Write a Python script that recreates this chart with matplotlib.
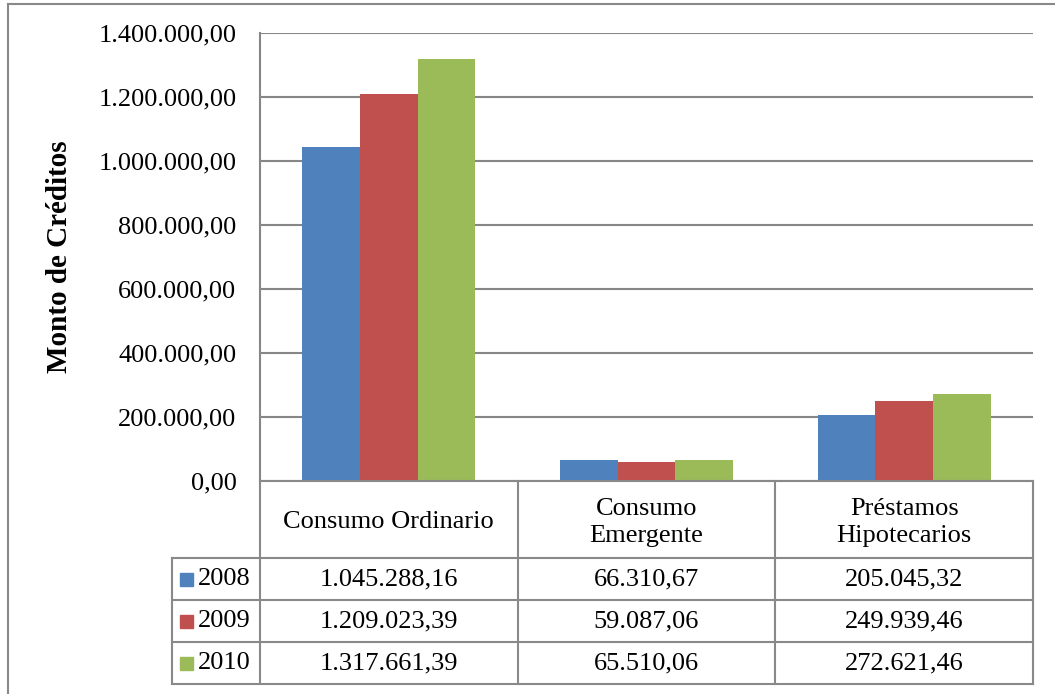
import matplotlib.pyplot as plt
import numpy as np
from matplotlib.patches import Rectangle

plt.rcParams['font.family'] = ['Liberation Serif', 'DejaVu Serif']

# montos de créditos por tipo y año
categorias = ['Consumo Ordinario', 'Consumo\nEmergente', 'Préstamos\nHipotecarios']
anios = ['2008', '2009', '2010']
montos_2008 = [1045288.16, 66310.67, 205045.32]
montos_2009 = [1209023.39, 59087.06, 249939.46]
montos_2010 = [1317661.39, 65510.06, 272621.46]
colores = ['#4F81BD', '#C0504D', '#9BBB59']
yticks = np.arange(0, 1400001, 200000)


def fmt(v):
    s = f"{v:,.2f}"
    return s.replace(',', '#').replace('.', ',').replace('#', '.')


W, H = 1055, 694
fs = 19
fig = plt.figure(figsize=(W / 100, H / 100), dpi=100)

# área del gráfico (en píxeles)
L, R, T, B = 260, 1033, 33, 481
ax = fig.add_axes([L / W, 1 - B / H, (R - L) / W, (B - T) / H])

series = [montos_2008, montos_2009, montos_2010]
x = np.arange(len(categorias))
ancho = 0.224
for i, (vals, c) in enumerate(zip(series, colores)):
    ax.bar(x + (i - 1) * ancho, vals, ancho, color=c, zorder=3)

ax.set_xlim(-0.5, len(categorias) - 0.5)
ax.set_ylim(0, 1400000)
ax.set_yticks(yticks)
ax.set_yticklabels([fmt(v) for v in yticks], fontsize=fs)
ax.tick_params(axis='y', length=0, pad=17)
ax.set_xticks([])
ax.grid(axis='y', color='#868686', linewidth=1.5, zorder=0)
for s in ['top', 'right', 'bottom']:
    ax.spines[s].set_visible(False)
ax.spines['left'].set_color('#868686')
ax.spines['left'].set_linewidth(1.5)
ax.set_ylabel('Monto de Créditos', fontsize=21, fontweight='bold')
ax.yaxis.set_label_coords(-0.242, 0.5)

# tabla de datos bajo el gráfico
ov = fig.add_axes([0, 0, 1, 1], zorder=5)
ov.set_xlim(0, W)
ov.set_ylim(H, 0)
ov.axis('off')
ov.patch.set_alpha(0)

gris = '#898989'
lw = 1.5
# marco exterior
ov.plot([8, W], [4, 4], color=gris, lw=lw)
ov.plot([8, 8], [4, H], color=gris, lw=lw)

col_w = (R - L) / len(categorias)
bordes_x = [L + k * col_w for k in range(len(categorias) + 1)]
filas_y = [558, 600, 642, 684]
leg_x = 172

ov.plot([L, R], [B, B], color=gris, lw=lw)
for yy in filas_y:
    ov.plot([leg_x, R], [yy, yy], color=gris, lw=lw)
for xx in bordes_x:
    ov.plot([xx, xx], [B, filas_y[-1]], color=gris, lw=lw)
ov.plot([leg_x, leg_x], [filas_y[0], filas_y[-1]], color=gris, lw=lw)

for j, cat in enumerate(categorias):
    cx = bordes_x[j] + col_w / 2
    ov.text(cx, (B + filas_y[0]) / 2 + 3, cat, ha='center', va='center',
            fontsize=fs, linespacing=1.35)

for i, (anio, vals, c) in enumerate(zip(anios, series, colores)):
    cy = (filas_y[i] + filas_y[i + 1]) / 2
    ov.add_patch(Rectangle((180, cy - 6.5), 13, 13, color=c))
    ov.text(198, cy, anio, ha='left', va='center', fontsize=fs)
    for j, v in enumerate(vals):
        cx = bordes_x[j] + col_w / 2
        ov.text(cx, cy, fmt(v), ha='center', va='center', fontsize=fs)

fig.savefig('out.png', dpi=100)
